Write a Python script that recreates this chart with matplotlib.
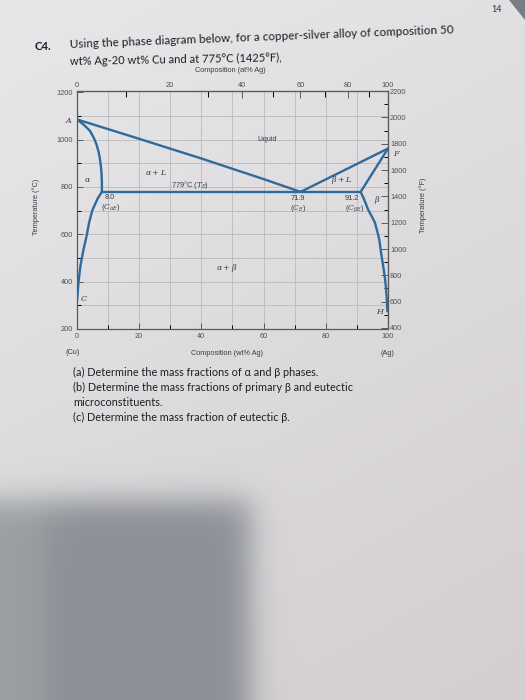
import numpy as np
import matplotlib
matplotlib.use("Agg")
import matplotlib.pyplot as plt
from matplotlib.patches import Polygon

# ---------------- data ----------------
liq_left_wt = [0, 20, 40, 60, 71.9]
liq_left_T = [1085, 1003, 920, 833, 779]
liq_right_wt = [71.9, 100]
liq_right_T = [779, 962]
sol_alpha_wt = [0, 2.2, 4.1, 5.3, 6.2, 6.9, 7.3, 7.7, 7.9, 8.0, 8.0]
sol_alpha_T = [1085, 1062, 1038, 1010, 982, 950, 925, 885, 854, 820, 779]
solv_alpha_wt = [8.0, 6.6, 4.9, 3.9, 3.2, 2.0, 1.1, 0.5, 0.15, 0.0]
solv_alpha_T = [779, 750, 700, 650, 600, 530, 466, 400, 340, 320]
sol_beta_wt = [91.2, 100]
sol_beta_T = [779, 962]
solv_beta_wt = [91.2, 92.4, 93.6, 94.8, 95.8, 96.6, 97.2, 97.8, 98.4, 98.9, 99.3, 99.6, 99.8]
solv_beta_T = [779, 745, 704, 675, 649, 610, 577, 520, 470, 427, 380, 330, 275]
eutectic_wt = [8.0, 91.2]
eutectic_T = [779, 779]

wt_ticks = [0, 20, 40, 60, 80, 100]
at_ticks = [0, 20, 40, 60, 80, 100]
at_minor = [10, 30, 50, 70, 90]
degC_ticks = [200, 400, 600, 800, 1000, 1200]
degF_ticks = [400, 600, 800, 1000, 1200, 1400, 1600, 1800, 2000, 2200]

M_AG, M_CU = 107.87, 63.55

def wt2at(w):
    w = np.asarray(w, dtype=float)
    with np.errstate(divide="ignore", invalid="ignore"):
        a = w / M_AG
        return 100 * a / (a + (100 - w) / M_CU)

def at2wt(a):
    a = np.asarray(a, dtype=float)
    with np.errstate(divide="ignore", invalid="ignore"):
        return 100 * a * M_AG / (a * M_AG + (100 - a) * M_CU)

W, H = 525, 700
fig = plt.figure(figsize=(W / 100, H / 100), dpi=100)
plt.rcParams["mathtext.fontset"] = "dejavuserif"

# ---------------- photographed-paper background ----------------
yy, xx = np.mgrid[0:H, 0:W].astype(float)
top_c = np.array([231, 231, 233]) / 255
bot_c = np.array([211, 206, 208]) / 255
t = (0.7 * yy / H + 0.3 * xx / W)[..., None]
img = top_c * (1 - t) + bot_c * t
sig = lambda z: 1 / (1 + np.exp(-z))
m = sig((250 - xx) / 9) * sig((yy - 500) / 9)
sh = np.array([140, 145, 151]) / 255 + (np.array([14, 14, 12]) / 255) * sig((45 - xx) / 10)[..., None]
img = img * (1 - m[..., None]) + sh * m[..., None]
bg = fig.add_axes([0, 0, 1, 1], zorder=-10)
bg.imshow(img, extent=(0, W, H, 0), aspect="auto", interpolation="bilinear")
bg.set_xlim(0, W); bg.set_ylim(H, 0); bg.axis("off")
fig.patches.append(Polygon([(509 / W, 1), (1, 1), (1, 1 - 20 / H)], closed=True,
                           transform=fig.transFigure, facecolor=(0.47, 0.49, 0.52),
                           edgecolor="none", zorder=-5))

def px(x, y):
    return x / W, 1 - y / H

# ---------------- main axes ----------------
L, R, T, B = 77, 388, 91, 329
ax = fig.add_axes([L / W, 1 - B / H, (R - L) / W, (B - T) / H])
ax.set_facecolor("none")
ax.set_xlim(0, 100)
ax.set_ylim(200, 1205)

gridc = "#bfbfc2"
for v in range(10, 100, 10):
    ax.axvline(v, color=gridc, lw=0.7, zorder=1)
for v in range(300, 1200, 100):
    ax.axhline(v, color=gridc, lw=0.7, zorder=1)

spc = "#5a5a5c"
for s in ax.spines.values():
    s.set_color(spc); s.set_linewidth(0.9)

tick_kw = dict(labelsize=5.3, colors=spc, labelcolor="#505052")
ax.set_xticks(wt_ticks)
ax.set_xticks(range(10, 100, 20), minor=True)
ax.set_yticks(degC_ticks)
ax.set_yticks(range(300, 1200, 200), minor=True)
ax.tick_params(axis="both", which="major", direction="in", length=4, width=0.7, pad=3, **tick_kw)
ax.tick_params(axis="both", which="minor", direction="in", length=3, width=0.7)
for lab in ax.get_xticklabels() + ax.get_yticklabels():
    lab.set_family("Liberation Sans")

top = ax.secondary_xaxis("top", functions=(wt2at, at2wt))
top.set_xticks(at_ticks)
top.set_xticks(at_minor, minor=True)
top.tick_params(which="major", direction="in", length=5, width=0.7, pad=1.5, **tick_kw)
top.tick_params(which="minor", direction="in", length=4, width=0.7)
top.spines["top"].set_color(spc)
for lab in top.get_xticklabels():
    lab.set_family("Liberation Sans")

right = ax.secondary_yaxis("right", functions=(lambda c: np.asarray(c) * 9 / 5 + 32,
                                               lambda f: (np.asarray(f) - 32) * 5 / 9))
right.set_yticks(degF_ticks)
right.set_yticks(range(500, 2200, 200), minor=True)
right.tick_params(which="major", direction="in", length=5, width=0.7, pad=1.5, **tick_kw)
right.tick_params(which="minor", direction="in", length=3, width=0.7)
right.spines["right"].set_color(spc)
for lab in right.get_yticklabels():
    lab.set_family("Liberation Sans")

# ---------------- phase boundaries ----------------
blue = "#2f6a9c"
lkw = dict(color=blue, lw=1.7, solid_capstyle="round", solid_joinstyle="round", zorder=3)
ax.plot(liq_left_wt, liq_left_T, **lkw)
ax.plot(liq_right_wt, liq_right_T, **lkw)
ax.plot(sol_alpha_wt, sol_alpha_T, **lkw)
ax.plot(solv_alpha_wt, solv_alpha_T, **lkw)
ax.plot(sol_beta_wt, sol_beta_T, **lkw)
ax.plot(solv_beta_wt, solv_beta_T, **lkw)
ax.plot(eutectic_wt, eutectic_T, **lkw)

lab_c = "#3c3c40"
sans = dict(family="Liberation Sans", fontsize=5.3, color=lab_c, ha="center", va="center")
ital = dict(fontsize=5.8, color=lab_c, ha="center", va="center")
ax.text(61, 1000, "Liquid", **sans)
ax.text(25.5, 860, r"$\alpha + L$", **ital)
ax.text(3.3, 830, r"$\alpha$", **ital)
ax.text(36.5, 808, r"779°C ($T_E$)", **sans)
ax.text(10.6, 755, "8.0", **sans)
ax.text(10.8, 713, r"($C_{\alpha E}$)", **sans)
ax.text(71.0, 750, "71.9", **sans)
ax.text(71.2, 710, r"($C_E$)", **sans)
ax.text(88.5, 750, "91.2", **sans)
ax.text(89.3, 710, r"($C_{\beta E}$)", **sans)
ax.text(85.0, 828, r"$\beta + L$", **ital)
ax.text(96.5, 745, r"$\beta$", **ital)
ax.text(48.0, 458, r"$\alpha + \beta$", **ital)
ax.text(-1.2, 1080, r"$A$", **{**ital, "ha": "right"})
ax.text(1.0, 328, r"$C$", **{**ital, "ha": "left"})
ax.text(101.5, 942, r"$F$", **{**ital, "ha": "left"})
ax.text(99.2, 272, r"$H$", **{**ital, "ha": "right"})

# axis titles as placed on the page
fig.text(*px(230, 70), "Composition (at% Ag)", family="Liberation Sans", fontsize=5.3,
         color=lab_c, ha="center", va="center")
fig.text(*px(227, 353), "Composition (wt% Ag)", family="Liberation Sans", fontsize=5.3,
         color=lab_c, ha="center", va="center")
fig.text(*px(73, 352), "(Cu)", family="Liberation Sans", fontsize=5.3, color=lab_c,
         ha="center", va="center")
fig.text(*px(387, 353), "(Ag)", family="Liberation Sans", fontsize=5.3, color=lab_c,
         ha="center", va="center")
fig.text(*px(36, 207), "Temperature (°C)", family="Liberation Sans", fontsize=5.3,
         color=lab_c, ha="center", va="center", rotation=90)
fig.text(*px(423, 205), "Temperature (°F)", family="Liberation Sans", fontsize=5.3,
         color=lab_c, ha="center", va="center", rotation=90)

# ---------------- page text ----------------
fam = ["Lato", "Noto Sans"]
txtc = "#1e1e22"
fig.text(*px(35, 47), "C4.", family=fam, fontsize=8.2, color=txtc, ha="left", va="center",
         weight="bold")
fig.text(*px(70, 45), "Using the phase diagram below, for a copper-silver alloy of composition 50",
         family=fam, fontsize=8.35, color=txtc, ha="left", va="center", rotation=2.2,
         rotation_mode="anchor")
fig.text(*px(70, 61), "wt% Ag-20 wt% Cu and at 775°C (1425°F),",
         family=fam, fontsize=8.05, color=txtc, ha="left", va="center", rotation=1.0,
         rotation_mode="anchor")
fig.text(*px(497, 9), "14", family=fam, fontsize=6.5, color="#333336", ha="center", va="center")

qs = ["(a) Determine the mass fractions of α and β phases.",
      "(b) Determine the mass fractions of primary β and eutectic",
      "microconstituents.",
      "(c) Determine the mass fraction of eutectic β."]
for i, q in enumerate(qs):
    fig.text(*px(73, 372 + 15 * i), q, family=fam, fontsize=7.8, color=txtc,
             ha="left", va="center")

fig.savefig("out.png", dpi=100)
